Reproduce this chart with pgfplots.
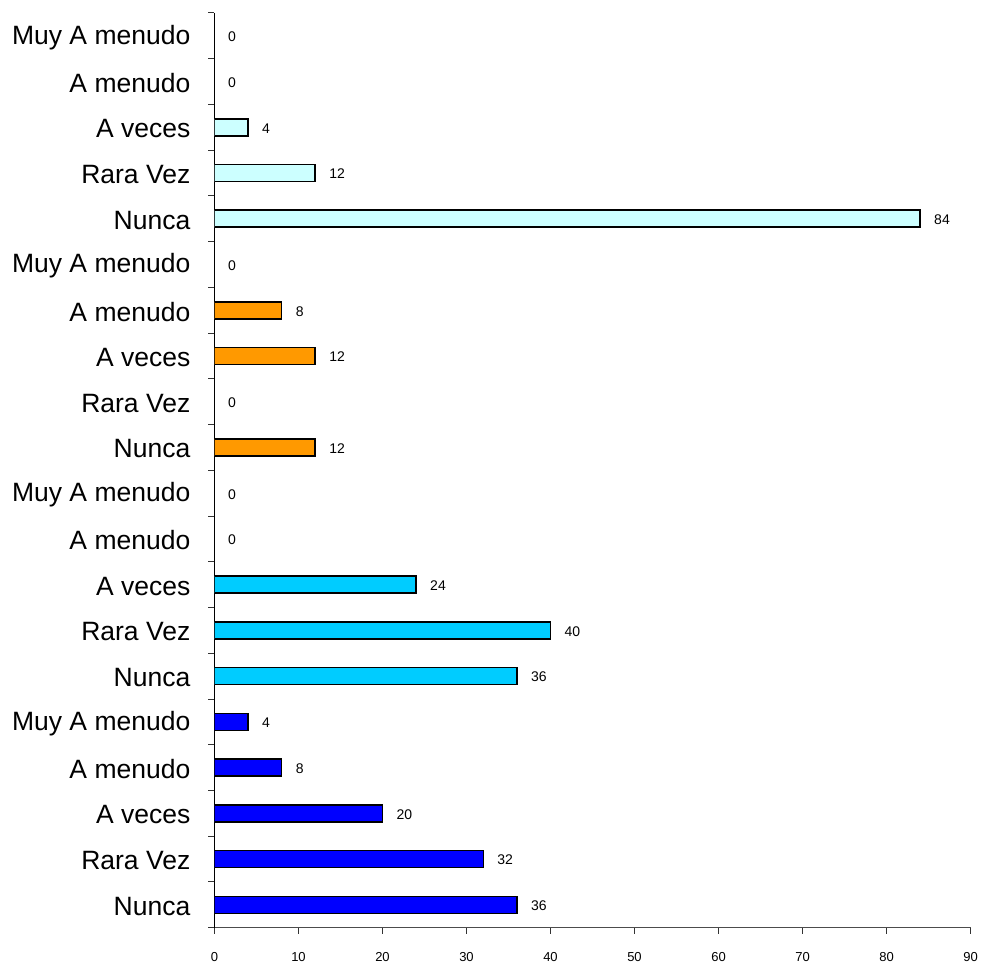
\documentclass[border=0pt]{standalone}
\usepackage{pgfplots}
\pgfplotsset{compat=1.18}
\usepackage{fontspec}
\setmainfont{Liberation Sans}
\definecolor{cblue}{HTML}{0000FF}
\definecolor{ccyan}{HTML}{00CCFF}
\definecolor{corange}{HTML}{FF9900}
\definecolor{clight}{HTML}{CCFFFF}
\begin{document}
\begin{tikzpicture}
\path[use as bounding box] (-214.5pt,-37.3pt) rectangle (767.5pt,927.7pt);
\begin{axis}[
  at={(0,0)}, anchor=south west,
  scale only axis, width=756pt, height=914.7pt,
  xmin=0, xmax=90, ymin=-0.5, ymax=19.5,
  axis lines*=left,
  axis line style={line width=1.1pt},
  x axis line style={black!70},
  xtick={0,10,...,90},
  ytick={-0.5,0.5,...,19.5},
  yticklabels={},
  extra y ticks={0,...,19},
  extra y tick labels={Nunca,Rara Vez,A veces,A menudo,Muy A menudo,Nunca,Rara Vez,A veces,A menudo,Muy A menudo,Nunca,Rara Vez,A veces,A menudo,Muy A menudo,Nunca,Rara Vez,A veces,A menudo,Muy A menudo},
  extra y tick style={major tick length=0pt},
  tick align=outside,
  major tick length=6pt,
  tick style={line width=1pt, black!80},
  /pgf/number format/assume math mode=true,
  xticklabel style={font=\fontsize{13}{13}\selectfont, yshift=-15pt},
  yticklabel style={font=\fontsize{26.5}{26.5}\selectfont, inner sep=0pt, xshift=-24pt, yshift=-1.5pt},
  xbar, bar width=17pt,
  point meta=x,
  nodes near coords,
  nodes near coords style={font=\fontsize{14}{14}\selectfont, anchor=west, xshift=10pt, yshift=-1pt},
]
\addplot[bar shift=0pt, draw=black, line width=1.6pt, fill=cblue] coordinates {(36,0) (32,1) (20,2) (8,3) (4,4)};
\addplot[bar shift=0pt, draw=black, line width=1.6pt, fill=ccyan] coordinates {(36,5) (40,6) (24,7)};
\addplot[bar shift=0pt, draw=black, line width=1.6pt, fill=corange] coordinates {(12,10) (12,12) (8,13)};
\addplot[bar shift=0pt, draw=black, line width=1.6pt, fill=clight] coordinates {(84,15) (12,16) (4,17)};
\addplot[bar shift=0pt, draw=none, fill=none] coordinates {(0,8) (0,9) (0,11) (0,14) (0,18) (0,19)};
\end{axis}
\end{tikzpicture}
\end{document}
